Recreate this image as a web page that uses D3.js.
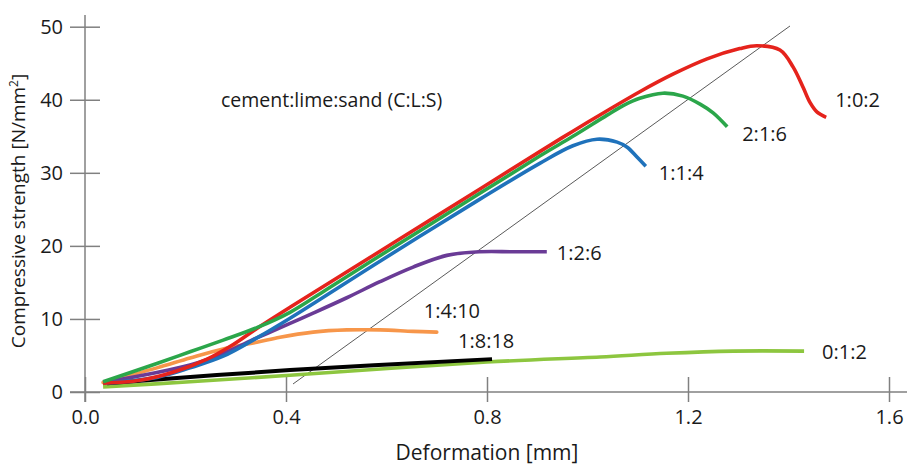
<!DOCTYPE html>
<html>
<head>
<meta charset="utf-8">
<script src="https://cdn.jsdelivr.net/npm/d3@7"></script>
<style>
  html, body { margin: 0; padding: 0; background: #fff; }
  svg { display: block; }
  text { font-family: "Open Sans", "Noto Sans", sans-serif; fill: #1a1a1a; }
</style>
</head>
<body>
<svg id="chart" width="910" height="465"></svg>
<script>
// ---- data (deformation [mm], compressive strength [N/mm²]) ----
const xTicks = [0.0, 0.4, 0.8, 1.2, 1.6];
const yTicks = [0, 10, 20, 30, 40, 50];

const mix_1_0_2 = [[0.036,1.2],[0.109,1.6],[0.175,2.7],[0.243,4.5],[0.295,6.5],[0.342,8.7],[0.408,11.6],
  [0.567,18.4],[0.693,23.8],[0.905,32.9],[0.971,35.7],[1.039,38.5],[1.104,41.1],[1.170,43.5],[1.238,45.6],
  [1.303,47.0],[1.337,47.4],[1.383,46.8],[1.409,44.5],[1.429,41.7],[1.443,39.6],[1.457,38.3],[1.475,37.6]];
const mix_2_1_6 = [[0.036,1.4],[0.143,3.9],[0.209,5.5],[0.275,7.1],[0.342,8.8],[0.408,10.9],[0.480,14.0],
  [0.567,17.8],[0.693,23.2],[0.905,32.3],[0.971,35.0],[1.039,37.9],[1.071,39.2],[1.104,40.2],[1.150,40.9],
  [1.190,40.5],[1.224,39.4],[1.250,38.2],[1.278,36.3]];
const mix_1_1_4 = [[0.036,1.2],[0.143,2.0],[0.209,3.3],[0.275,4.9],[0.342,7.4],[0.408,10.1],
  [0.587,17.9],[0.786,26.4],[0.905,31.3],[0.971,33.7],[1.019,34.6],[1.059,34.2],[1.079,33.5],[1.098,32.2],[1.116,30.9]];
const mix_1_2_6 = [[0.036,1.3],[0.209,3.7],[0.275,5.3],[0.342,7.4],[0.408,9.4],[0.454,10.8],[0.521,12.9],
  [0.587,15.1],[0.653,17.1],[0.720,18.7],[0.786,19.2],[0.852,19.2],[0.919,19.2]];
const mix_1_4_10 = [[0.036,1.3],[0.143,3.3],[0.209,4.65],[0.275,5.9],[0.342,6.8],[0.388,7.5],[0.454,8.2],
  [0.521,8.5],[0.587,8.5],[0.653,8.3],[0.700,8.2]];
const mix_1_8_18 = [[0.044,1.2],[0.408,3.0],[0.810,4.5]];
const mix_0_1_2 = [[0.036,0.7],[0.209,1.4],[0.408,2.3],[0.800,4.1],[1.025,4.8],[1.158,5.3],[1.290,5.6],[1.431,5.6]];
const referenceLine = [[0.414,1.1],[1.403,50.1]];

const seriesNames = ["0:1:2","1:8:18","1:4:10","1:2:6","1:1:4","1:0:2","2:1:6"];
const seriesValues = [mix_0_1_2, mix_1_8_18, mix_1_4_10, mix_1_2_6, mix_1_1_4, mix_1_0_2, mix_2_1_6];

// ---- styles ----
const styles = {
  "0:1:2":  {color:"#8dc63f", dx:18,  dy:8,   cap:"butt"},
  "1:8:18": {color:"#000000", dx:-34, dy:-11, cap:"butt"},
  "1:4:10": {color:"#f7964a", dx:-13, dy:-14, cap:"round"},
  "1:2:6":  {color:"#6a3b96", dx:10,  dy:8,   cap:"butt"},
  "1:1:4":  {color:"#1f72bb", dx:13,  dy:14,  cap:"butt"},
  "1:0:2":  {color:"#e5231c", dx:9,   dy:-10, cap:"butt"},
  "2:1:6":  {color:"#2ba64a", dx:15,  dy:14,  cap:"butt"}
};

const svg = d3.select("#chart");
const x = d3.scaleLinear().domain([0, 1.6]).range([85, 889]);
const y = d3.scaleLinear().domain([0, 50]).range([392, 26.7]);
const axisColor = "#808080";
const tickFont = 20;
const labelFont = 20;

// axes lines (crossing at origin)
svg.append("line").attr("x1", 85).attr("x2", 85).attr("y1", 15).attr("y2", 402)
  .attr("stroke", axisColor).attr("stroke-width", 1.5);
svg.append("line").attr("x1", 70).attr("x2", 907).attr("y1", 392).attr("y2", 392)
  .attr("stroke", axisColor).attr("stroke-width", 1.5);

// y axis
const gy = svg.append("g").attr("transform", "translate(85,0)")
  .call(d3.axisLeft(y).tickValues(yTicks).tickFormat(d3.format("d")).tickSize(15).tickPadding(7));
gy.select(".domain").remove();
gy.selectAll(".tick line").attr("x1", 15).attr("stroke", axisColor).attr("stroke-width", 1.5);
gy.selectAll(".tick text").attr("font-size", tickFont).attr("font-family", "Open Sans").attr("fill", "#1a1a1a");

// x axis
const gx = svg.append("g").attr("transform", "translate(0,392)")
  .call(d3.axisBottom(x).tickValues(xTicks).tickFormat(d3.format(".1f")).tickSize(10).tickPadding(8));
gx.select(".domain").remove();
gx.selectAll(".tick line").attr("y1", -15).attr("stroke", axisColor).attr("stroke-width", 1.5);
gx.selectAll(".tick text").attr("font-size", tickFont).attr("font-family", "Open Sans").attr("fill", "#1a1a1a");

// axis titles
svg.append("text").attr("x", 487).attr("y", 460).attr("text-anchor", "middle")
  .attr("font-size", 21).text("Deformation [mm]");
const yt = svg.append("text").attr("transform", "translate(25,211) rotate(-90)")
  .attr("text-anchor", "middle").attr("font-size", 19);
yt.append("tspan").text("Compressive strength [N/mm");
yt.append("tspan").attr("font-size", 12).attr("dy", -7).text("2");
yt.append("tspan").attr("dy", 7).text("]");

// reference line
const line = d3.line().x(d => x(d[0])).y(d => y(d[1]));
svg.append("path").datum(referenceLine).attr("d", line)
  .attr("fill", "none").attr("stroke", "#5a5a5a").attr("stroke-width", 1);

// series
const curve = d3.line().x(d => x(d[0])).y(d => y(d[1])).curve(d3.curveCatmullRom.alpha(0.5));
seriesNames.forEach((name, i) => {
  const st = styles[name];
  const vals = seriesValues[i];
  svg.append("path").datum(vals).attr("d", curve)
    .attr("fill", "none").attr("stroke", st.color)
    .attr("stroke-width", name === "1:8:18" ? 4 : 3.6)
    .attr("stroke-linecap", st.cap).attr("stroke-linejoin", "round");
  const last = vals[vals.length - 1];
  svg.append("text").attr("x", x(last[0]) + st.dx).attr("y", y(last[1]) + st.dy)
    .attr("font-size", labelFont).text(name);
});

// annotation
svg.append("text").attr("x", 221).attr("y", 107).attr("font-size", 19.5)
  .text("cement:lime:sand (C:L:S)");
</script>
</body>
</html>
